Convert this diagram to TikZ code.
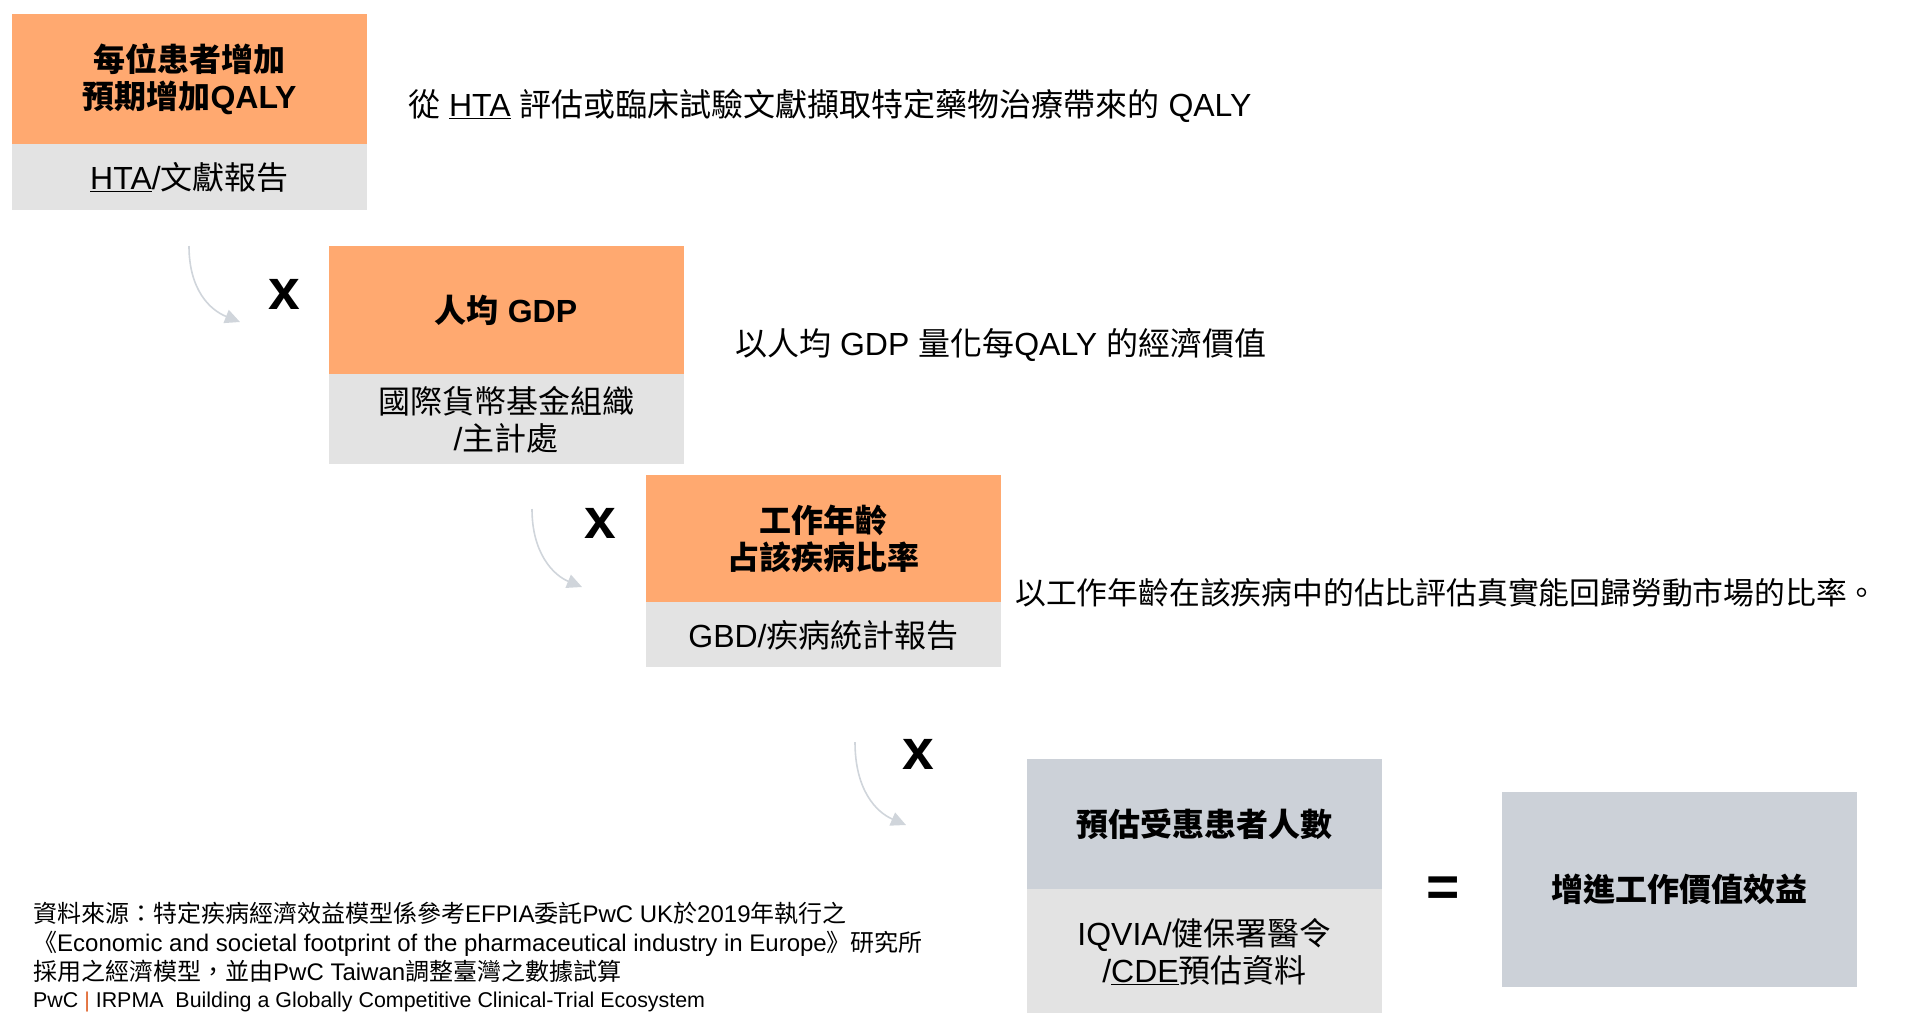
\documentclass[tikz,border=0pt]{standalone}
\usepackage{fontspec}
\setmainfont{Liberation Sans}
\newfontfamily\cjk{Noto Sans CJK TC}
\newcommand\zh[1]{{\cjk #1}}
\usetikzlibrary{arrows.meta}
\definecolor{orangeC}{HTML}{FFA970}
\definecolor{grayC}{HTML}{E3E3E3}
\definecolor{blueC}{HTML}{CCD1D8}
\definecolor{arrowC}{HTML}{D0D5DB}
\definecolor{pwcC}{HTML}{E0632A}
\begin{document}
\begin{tikzpicture}[x=1pt,y=-1pt,
  boxbase/.style={draw=none, inner sep=0pt, minimum width=355pt, align=center, text=black},
  obox/.style={boxbase, fill=orangeC, font=\fontsize{32}{37}\selectfont\bfseries},
  gbox/.style={boxbase, fill=grayC, font=\fontsize{32}{37}\selectfont},
  bbox/.style={boxbase, fill=blueC, font=\fontsize{32}{37}\selectfont\bfseries},
  arr/.style={draw=arrowC, line width=1.6pt, -{Triangle[length=15pt,width=14pt]}},
  mult/.style={inner sep=0pt, font=\fontsize{57}{57}\selectfont\bfseries},
  side/.style={anchor=west, inner sep=0pt, font=\fontsize{32}{36}\selectfont},
  foot/.style={anchor=base west, inner sep=0pt, font=\fontsize{24}{28}\selectfont},
  footb/.style={anchor=base west, inner sep=0pt, font=\fontsize{21.4}{26}\selectfont}]
\useasboundingbox (0,0) rectangle (1909,1013);

% box 1
\node[obox, minimum height=130pt] (o1) at (189.5,79) {\zh{每位患者增加}\\\zh{預期增加}QALY};
\node[gbox, minimum height=66pt, anchor=north] (g1) at (o1.south) {\underline{HTA}/\zh{文獻報告}};
\node[side] (t1) at (408,106) {\zh{從} \underline{HTA} \zh{評估或臨床試驗文獻擷取特定藥物治療帶來的} QALY};

% box 2
\node[obox, minimum height=128pt] (o2) at (506,310) {\zh{人均} GDP};
\node[gbox, minimum height=90pt, anchor=north] (g2) at (o2.south) {\zh{國際貨幣基金組織}\\/\zh{主計處}};
\node[side] (t2) at (735,345) {\zh{以人均} GDP \zh{量化每}QALY \zh{的經濟價值}};

% box 3
\node[obox, minimum height=127pt] (o3) at (823.5,538.5) {\zh{工作年齡}\\\zh{占該疾病比率}};
\node[gbox, minimum height=65pt, anchor=north] (g3) at (o3.south) {GBD/\zh{疾病統計報告}};
\node[side, font=\fontsize{30.8}{36}\selectfont] (t3) at (1015,593) {\zh{以工作年齡在該疾病中的佔比評估真實能回歸勞動市場的比率。}};

% box 4
\node[bbox, minimum height=130pt] (o4) at (1204.5,824) {\zh{預估受惠患者人數}};
\node[gbox, minimum height=124pt, anchor=north] (g4) at (o4.south) {IQVIA/\zh{健保署醫令}\\/\underline{CDE}\zh{預估資料}};

% result
\node[mult] (eq) at (1443,892) {=};
\node[bbox, minimum height=195pt] (r) at (1679.5,889.5) {\zh{增進工作價值效益}};

% multiply signs
\node[mult] (x1) at (284,294) {x};
\node[mult] (x2) at (600,523) {x};
\node[mult] (x3) at (918,754) {x};

% arrows
\coordinate (a1s) at (189,246); \coordinate (a1e) at (240,322);
\coordinate (a2s) at (532,509); \coordinate (a2e) at (582,587);
\coordinate (a3s) at (855,742); \coordinate (a3e) at (906,825);
\draw[arr] (a1s) .. controls (189,290) and (210,310) .. (a1e);
\draw[arr] (a2s) .. controls (532,553) and (553,575) .. (a2e);
\draw[arr] (a3s) .. controls (855,790) and (876,812) .. (a3e);

% footnote
\node[foot] (f1) at (33,922) {\zh{資料來源：特定疾病經濟效益模型係參考}EFPIA\zh{委託}PwC UK\zh{於}2019\zh{年執行之}};
\node[foot] (f2) at (33,951) {\zh{《}Economic and societal footprint of the pharmaceutical industry in Europe\zh{》研究所}};
\node[foot] (f3) at (33,980) {\zh{採用之經濟模型，並由}PwC Taiwan\zh{調整臺灣之數據試算}};
\node[footb] (f4) at (33,1007) {PwC {\color{pwcC}|} IRPMA\ \ Building a Globally Competitive Clinical-Trial Ecosystem};
\end{tikzpicture}
\end{document}
